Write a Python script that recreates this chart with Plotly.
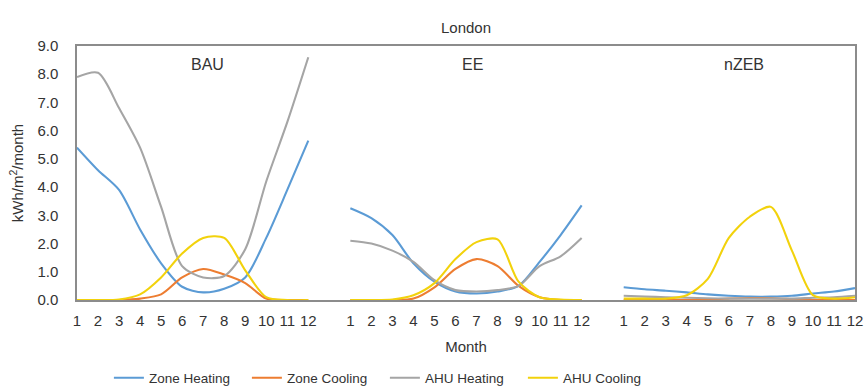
import plotly.graph_objects as go

months = [str(m) for m in range(1, 13)]
scenarios = ["BAU", "EE", "nZEB"]
series_names = ["Zone Heating", "Zone Cooling", "AHU Heating", "AHU Cooling"]
colors = ["#5B9BD5", "#ED7D31", "#A5A5A5", "#F2D20C"]

# BAU
bau_zone_heating = [5.4, 4.6, 3.9, 2.5, 1.3, 0.47, 0.27, 0.4, 0.8, 2.2, 3.9, 5.65]
bau_zone_cooling = [0.0, 0.0, 0.0, 0.05, 0.2, 0.8, 1.1, 0.9, 0.6, 0.05, 0.0, 0.0]
bau_ahu_heating = [7.9, 8.05, 6.8, 5.4, 3.3, 1.2, 0.8, 0.85, 1.8, 4.2, 6.3, 8.6]
bau_ahu_cooling = [0.0, 0.0, 0.02, 0.2, 0.8, 1.65, 2.2, 2.2, 1.05, 0.1, 0.0, 0.0]

# EE
ee_zone_heating = [3.25, 2.9, 2.3, 1.3, 0.65, 0.3, 0.23, 0.3, 0.5, 1.35, 2.3, 3.35]
ee_zone_cooling = [0.0, 0.0, 0.0, 0.05, 0.45, 1.1, 1.45, 1.2, 0.5, 0.1, 0.0, 0.0]
ee_ahu_heating = [2.1, 2.0, 1.75, 1.35, 0.7, 0.35, 0.3, 0.35, 0.5, 1.2, 1.55, 2.2]
ee_ahu_cooling = [0.0, 0.0, 0.02, 0.17, 0.6, 1.45, 2.05, 2.15, 0.65, 0.1, 0.02, 0.0]

# nZEB
nzeb_zone_heating = [0.45, 0.38, 0.33, 0.27, 0.2, 0.15, 0.12, 0.12, 0.15, 0.23, 0.3, 0.42]
nzeb_zone_cooling = [0.0, 0.0, 0.0, 0.0, 0.02, 0.05, 0.07, 0.06, 0.03, 0.0, 0.0, 0.0]
nzeb_ahu_heating = [0.15, 0.12, 0.1, 0.08, 0.06, 0.05, 0.05, 0.05, 0.05, 0.08, 0.1, 0.15]
nzeb_ahu_cooling = [0.05, 0.05, 0.05, 0.17, 0.75, 2.2, 2.95, 3.3, 1.75, 0.17, 0.05, 0.1]

data = {
    "Zone Heating": [bau_zone_heating, ee_zone_heating, nzeb_zone_heating],
    "Zone Cooling": [bau_zone_cooling, ee_zone_cooling, nzeb_zone_cooling],
    "AHU Heating": [bau_ahu_heating, ee_ahu_heating, nzeb_ahu_heating],
    "AHU Cooling": [bau_ahu_cooling, ee_ahu_cooling, nzeb_ahu_cooling],
}

# x positions: each scenario block of 12 months, separated by one empty slot
offsets = [0, 13, 26]
tickvals, ticktext = [], []
for off in offsets:
    for i, m in enumerate(months):
        tickvals.append(off + i + 1)
        ticktext.append(m)

fig = go.Figure()
for name, color in zip(series_names, colors):
    xs, ys = [], []
    for off, vals in zip(offsets, data[name]):
        xs += [off + i + 1 for i in range(12)] + [off + 13]
        ys += list(vals) + [None]
    fig.add_trace(go.Scatter(
        x=xs, y=ys, name=name, mode="lines",
        line=dict(color=color, width=2.1, shape="spline", smoothing=0.8),
        connectgaps=False,
    ))

# scenario labels
label_x = [7.2, 13 + 6.8, 26 + 6.7]
for sc, lx in zip(scenarios, label_x):
    fig.add_annotation(x=lx, y=8.35, text=sc, showarrow=False,
                       font=dict(size=16, color="#333"))

fig.update_layout(
    width=866, height=389,
    margin=dict(l=77, r=11, t=46, b=89, autoexpand=False),
    paper_bgcolor="white", plot_bgcolor="white",
    font=dict(family="Liberation Sans, Arial, sans-serif", size=14, color="#333"),
    title=dict(text="London", x=0.5, xanchor="center", xref="paper",
               y=1 - 28 / 389, yanchor="middle", font=dict(size=15, color="#333")),
    showlegend=True,
    legend=dict(orientation="h", x=0.041, xanchor="left", y=-0.307, yanchor="middle",
                entrywidth=93, entrywidthmode="pixels",
                font=dict(size=13.5, color="#333"), itemwidth=30),
    xaxis=dict(
        range=[1, 38], tickmode="array", tickvals=tickvals, ticktext=ticktext,
        showgrid=False, zeroline=False, showline=True, linecolor="#8C8C8C",
        linewidth=1.5, mirror=True, ticks="", ticklabelstandoff=6,
        automargin=False,
        tickfont=dict(size=15, color="#333"),
        title=dict(text="Month", standoff=14, font=dict(size=15, color="#333")),
    ),
    yaxis=dict(
        range=[0, 9], dtick=1, tickformat=".1f",
        showgrid=False, zeroline=False, showline=True, linecolor="#8C8C8C",
        linewidth=1.5, mirror=True, ticks="", ticklabelstandoff=14,
        automargin=False,
        tickfont=dict(size=15, color="#333"),
        title=dict(text="kWh/m<sup>2</sup>/month", standoff=10,
                   font=dict(size=15, color="#333")),
    ),
)

fig.write_html("out.html", config={"displayModeBar": False},
               post_script="document.body.style.margin='0px';")
